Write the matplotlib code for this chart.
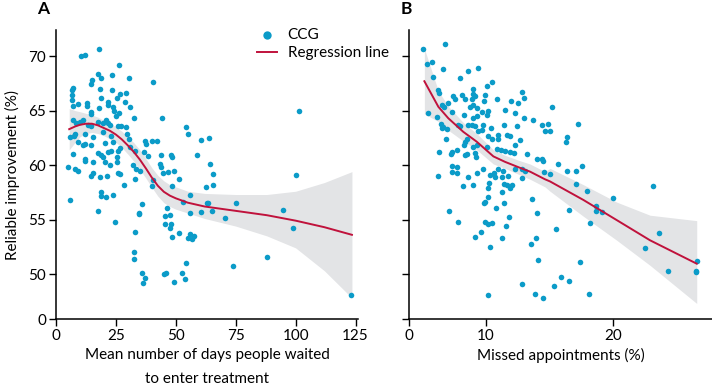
import numpy as np
import matplotlib
matplotlib.use("Agg")
import matplotlib.pyplot as plt

plt.rcParams['font.family'] = ['Lato', 'DejaVu Sans']

# ---- data ----
# panel A: mean days waited vs reliable improvement
wait_days = [17.8, 10.6, 12.2, 26.2, 17.5, 18.9, 15.1, 14.4, 23.5, 30.3, 40.4, 7.1, 6.8, 18.2, 23.3,
             6.5, 6.5, 18.9, 26.5, 25.6, 29.0, 21.7, 21.7, 7.1, 9.2, 13.1, 13.1, 17.9, 28.6, 30.7,
             23.9, 24.4, 14.4, 14.4, 25.1, 26.2, 32.5, 44.2, 7.1, 8.5, 9.9, 11.2, 13.3, 14.7, 17.5,
             19.6, 21.0, 21.7, 22.4, 25.8, 27.2, 29.3, 5.7, 7.8, 7.5, 12.0, 15.4, 19.6, 23.1, 29.7,
             30.4, 54.3, 55.0, 60.5, 9.2, 11.2, 11.9, 14.7, 20.3, 23.7, 26.5, 25.8, 30.7, 37.0, 37.6,
             40.1, 42.2, 7.1, 17.5, 18.6, 21.7, 23.1, 12.0, 12.0, 15.4, 19.6, 20.3, 25.5, 25.5, 33.0,
             38.3, 36.9, 43.9, 48.1, 48.5, 58.8, 5.0, 7.8, 9.2, 15.4, 14.7, 18.2, 21.2, 22.4, 25.8,
             26.5, 32.1, 33.5, 34.9, 43.2, 43.9, 44.6, 46.7, 49.4, 51.5, 32.8,
             28.3, 40.4, 40.1, 48.5, 18.9, 18.6, 21.0, 23.7, 6.0, 55.8, 62.8, 52.9, 36.0, 46.4, 47.4,
             45.3, 56.1, 60.3, 63.1, 34.6, 34.6, 17.5, 24.7, 45.6, 47.8, 47.4, 48.3, 51.5, 56.1, 57.5,
             55.0, 56.8, 33.0, 32.5, 32.5, 54.4, 36.0, 37.0, 36.4, 45.0, 45.7, 52.5, 54.0, 49.4,
             101.3, 63.9, 64.4, 65.6, 65.6, 64.9, 75.0, 70.4, 100.0, 94.9, 98.9, 88.1, 73.9, 123.3, 63.5]
improve_a = [70.7, 70.0, 70.1, 69.2, 68.4, 68.0, 67.8, 67.4, 68.3, 68.0, 67.6, 67.1, 66.9, 67.0, 66.9,
             66.4, 66.0, 66.2, 66.5, 66.2, 66.6, 65.8, 65.5, 65.4, 65.6, 65.7, 65.4, 65.2, 65.8, 65.3,
             65.3, 65.0, 64.9, 64.7, 64.5, 64.8, 64.3, 64.3, 64.1, 63.9, 64.0, 64.1, 63.7, 63.6, 64.0,
             63.9, 64.1, 63.9, 63.7, 63.6, 63.6, 63.5, 62.6, 62.9, 62.7, 62.9, 62.6, 63.0, 62.7, 62.9,
             62.4, 63.5, 62.9, 62.3, 62.1, 61.8, 61.9, 61.8, 62.0, 62.1, 61.6, 61.3, 61.7, 62.2, 61.9,
             62.2, 62.2, 61.0, 61.1, 60.9, 61.2, 61.3, 60.6, 60.4, 60.3, 60.7, 60.3, 60.7, 60.3, 61.3,
             60.8, 61.2, 60.9, 60.9, 60.7, 60.9, 59.8, 59.6, 59.5, 59.3, 59.0, 58.9, 59.0, 60.0, 59.3,
             59.2, 60.0, 59.6, 59.5, 60.1, 59.8, 59.3, 59.4, 59.5, 58.7, 58.7,
             58.2, 58.6, 58.1, 58.1, 57.5, 57.2, 57.1, 57.3, 56.8, 57.3, 58.0, 56.6, 56.4, 56.1, 55.4,
             55.3, 55.6, 55.7, 56.5, 55.6, 55.5, 55.8, 54.8, 54.6, 54.6, 54.2, 53.4, 53.8, 53.7, 53.5,
             53.3, 53.2, 53.9, 52.0, 51.4, 51.0, 50.1, 49.6, 49.2, 50.0, 50.1, 50.1, 49.5, 49.3,
             65.0, 62.5, 60.1, 59.2, 58.2, 55.8, 56.5, 55.1, 59.1, 55.9, 54.2, 51.6, 50.7, 48.1, 56.5]

fit_a_x = [5.5, 8, 10, 12.5, 15, 17.5, 20, 22.5, 25, 27.5, 30, 32.5, 35, 37.5, 40, 42.5, 45, 47.5,
           50, 55, 62, 75, 88, 100, 112, 123.5]
fit_a_y = [63.3, 63.55, 63.7, 63.8, 63.8, 63.65, 63.4, 63.15, 62.8, 62.35, 61.8, 61.2, 60.5, 59.7,
           58.85, 58.1, 57.55, 57.2, 56.95, 56.55, 56.2, 55.8, 55.4, 54.9, 54.3, 53.6]
fit_a_lo = [61.4, 62.1, 62.6, 62.9, 63.0, 62.9, 62.7, 62.4, 62.1, 61.6, 61.0, 60.35, 59.6, 58.8,
            57.95, 57.15, 56.55, 56.2, 55.95, 55.6, 55.1, 54.4, 53.5, 52.4, 50.3, 47.8]
fit_a_hi = [65.2, 65.0, 64.9, 64.75, 64.6, 64.4, 64.1, 63.85, 63.5, 63.1, 62.6, 62.05, 61.4, 60.6,
            59.75, 59.05, 58.55, 58.2, 58.0, 57.6, 57.4, 57.3, 57.3, 57.6, 58.4, 59.4]

# panel B: missed appointments vs reliable improvement
missed = [5.08, 6.78, 5.34, 5.79, 6.6, 5.87, 8.56, 9.35, 7.96, 10.05, 10.45, 6.2, 6.3, 7.44, 7.57,
          8.14, 8.35, 9.0, 9.0, 9.14, 8.87, 9.92, 9.87, 10.84, 12.85, 12.99, 11.96, 12.54, 7.04, 6.52,
          6.73, 5.42, 6.13, 7.3, 8.74, 9.0, 9.27, 8.3, 9.66, 10.18, 10.05, 9.27, 9.0, 11.5, 12.28,
          13.01, 13.72, 15.16, 14.9, 14.37, 15.03, 14.63, 6.47, 6.65, 6.91, 6.57, 7.83, 7.96, 8.61, 8.87,
          9.14, 9.79, 9.66, 9.35, 10.4, 11.44, 12.46, 6.86, 8.48, 8.35, 8.3, 10.13, 10.5, 10.97, 11.62,
          11.89, 10.97, 12.28, 12.67, 9.0, 9.27, 10.05, 10.84, 6.34, 7.3, 7.25, 7.7, 8.35, 8.48, 9.14,
          9.22, 11.18, 11.49, 11.89, 12.23, 13.25, 13.98, 14.37, 14.5, 7.3, 7.75, 7.7, 7.36, 9.79, 10.66,
          10.92, 11.36, 12.28, 12.8, 13.06, 14.58, 6.2, 8.61, 9.27, 10.32, 10.71, 11.23, 11.75, 12.8, 15.03,
          8.22, 9.0, 10.18, 10.26, 11.44, 11.62, 11.89, 12.02, 11.23, 10.18, 9.92, 9.84, 11.44, 10.76, 13.59,
          13.98, 7.12, 7.78, 9.92, 10.18, 10.5, 11.81, 11.57, 9.61, 9.14, 10.32, 11.23, 13.54, 13.9, 14.11,
          12.8, 10.13, 13.85, 14.45, 15.37,
          15.9, 16.55, 18.1, 17.38, 15.5, 16.5, 18.2, 18.6, 19.1, 18.6, 19.95, 17.9, 17.1, 23.1, 23.6,
          22.5, 24.3, 26.55, 26.5, 26.5,
          17.2, 16.34, 16.29, 15.68, 16.34, 17.07, 17.52]
improve_b = [70.7, 71.1, 69.3, 69.5, 68.8, 68.1, 68.6, 68.9, 68.0, 67.3, 67.6, 66.9, 66.6, 66.3, 66.1,
             66.4, 66.1, 67.0, 66.5, 66.3, 66.1, 66.4, 65.9, 66.1, 66.7, 66.2, 65.9, 65.7, 65.7, 65.5,
             65.3, 64.8, 64.4, 64.9, 65.3, 65.5, 65.2, 64.6, 64.9, 65.0, 64.6, 64.5, 64.3, 65.1, 64.8,
             64.3, 64.1, 65.3, 63.8, 63.7, 63.1, 63.1, 63.8, 63.5, 63.3, 63.4, 63.7, 63.6, 63.7, 63.7,
             63.6, 63.7, 63.2, 63.1, 63.4, 63.7, 63.6, 62.4, 62.4, 62.1, 61.8, 62.7, 62.4, 62.8, 62.8,
             62.7, 62.4, 61.8, 62.3, 61.7, 61.8, 61.7, 61.5, 61.2, 61.2, 61.0, 61.4, 60.9, 61.0, 61.1,
             60.7, 61.4, 61.3, 61.2, 61.1, 61.0, 60.6, 60.6, 60.4, 59.9, 59.8, 59.3, 59.4, 59.6, 59.3,
             59.6, 59.5, 59.6, 59.6, 59.5, 59.4, 59.0, 58.9, 59.3, 59.1, 58.9, 58.9, 59.0, 58.8, 59.2,
             58.1, 58.2, 57.9, 58.4, 58.3, 58.2, 57.9, 58.2, 57.5, 57.1, 56.6, 56.5, 56.5, 56.1, 56.9,
             55.6, 55.8, 54.8, 54.8, 54.6, 54.7, 55.2, 54.4, 53.9, 53.4, 52.5, 53.3, 52.8, 53.3, 51.3,
             49.05, 48.1, 48.2, 47.8, 48.9,
             49.7, 49.4, 48.2, 51.1, 54.1, 55.9, 54.7, 55.8, 55.7, 56.2, 57.0, 57.6, 58.3, 58.1, 53.8,
             52.4, 50.3, 51.2, 50.3, 50.15,
             63.8, 62.6, 62.1, 60.1, 59.5, 59.5, 59.9]

fit_b_x = [5.16, 6.26, 7.04, 8.22, 9.27, 10.58, 11.49, 12.67, 13.46, 14.63, 15.03, 17.65, 20.27, 22.88, 26.55]
fit_b_y = [67.7, 65.35, 64.3, 63.05, 62.15, 60.8, 60.3, 59.75, 59.4, 58.7, 58.5, 56.8, 54.95, 53.1, 50.95]
fit_b_lo = [64.7, 64.0, 63.2, 62.2, 61.4, 60.1, 59.7, 59.1, 58.7, 58.0, 57.6, 55.3, 53.1, 50.8, 47.3]
fit_b_hi = [70.7, 66.8, 65.4, 63.9, 62.9, 61.4, 60.9, 60.4, 60.1, 59.4, 59.7, 58.2, 56.6, 55.4, 54.9]

dot_col = '#0b9bc8'
line_col = '#c0123c'
band_col = '#e3e4e6'

fig = plt.figure(figsize=(7.12, 3.9), dpi=100)
axA = fig.add_axes([0.0787, 0.182, 0.424, 0.741])
axB = fig.add_axes([0.5744, 0.182, 0.4256, 0.741])

y_bottom, y_top = 45.87, 72.4

for ax in (axA, axB):
    ax.spines['top'].set_visible(False)
    ax.spines['right'].set_visible(False)
    ax.spines['left'].set_linewidth(1.1)
    ax.spines['bottom'].set_linewidth(1.1)
    ax.tick_params(direction='out', length=5, width=1, labelsize=11, pad=2)
    ax.set_ylim(y_bottom, y_top)
    ax.set_yticks([y_bottom, 50, 55, 60, 65, 70])

# panel A
axA.fill_between(fit_a_x, fit_a_lo, fit_a_hi, color=band_col, lw=0, zorder=1)
axA.scatter(wait_days, improve_a, s=16, color=dot_col, lw=0, zorder=2, label='CCG')
axA.plot(fit_a_x, fit_a_y, color=line_col, lw=1.4, zorder=3, label='Regression line')
axA.set_xlim(0, 126)
axA.set_xticks([0, 25, 50, 75, 100, 125])
axA.set_yticklabels(['0', '50', '55', '60', '65', '70'])
axA.set_xlabel('Mean number of days people waited\nto enter treatment', fontsize=11,
               labelpad=4, linespacing=1.9)
axA.set_ylabel('Reliable improvement (%)', fontsize=11, labelpad=6)
axA.legend(loc='upper left', bbox_to_anchor=(0.62, 1.055), frameon=False, fontsize=11,
           handlelength=1.3, handletextpad=0.7, labelspacing=0.3, markerscale=1.5)
fig.text(0.052, 0.978, 'A', fontsize=12.5, fontweight='bold', ha='left', va='center')

# panel B
axB.fill_between(fit_b_x, fit_b_lo, fit_b_hi, color=band_col, lw=0, zorder=1)
axB.scatter(missed, improve_b, s=16, color=dot_col, lw=0, zorder=2)
axB.plot(fit_b_x, fit_b_y, color=line_col, lw=1.4, zorder=3)
axB.set_xlim(3.95, 27.75)
axB.set_xticks([3.95, 10, 20])
axB.set_xticklabels(['0', '10', '20'])
axB.set_yticklabels([])
axB.set_xlabel('Missed appointments (%)', fontsize=11, labelpad=4)
fig.text(0.562, 0.978, 'B', fontsize=12.5, fontweight='bold', ha='left', va='center')

fig.savefig('out.png', dpi=100)
